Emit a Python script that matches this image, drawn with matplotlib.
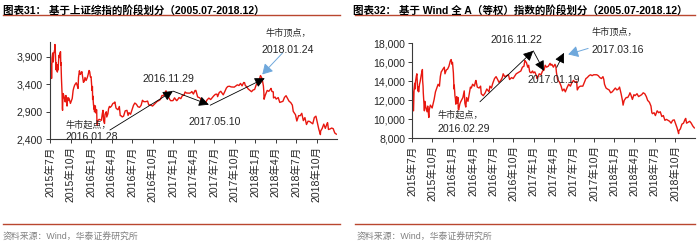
import matplotlib
matplotlib.use("Agg")
import matplotlib.pyplot as plt
import matplotlib.dates as mdates
from matplotlib.lines import Line2D
import pandas as pd

FONT = ['Liberation Sans', 'Noto Sans CJK SC']
plt.rcParams['font.family'] = FONT

# ---- 上证综指 (left) ----
sh_dates = [
    "2015-07-01", "2015-07-02", "2015-07-03", "2015-07-06", "2015-07-07", "2015-07-08", "2015-07-09", "2015-07-10",
    "2015-07-13", "2015-07-14", "2015-07-15", "2015-07-16", "2015-07-17", "2015-07-20", "2015-07-21", "2015-07-22",
    "2015-07-23", "2015-07-24", "2015-07-27", "2015-07-28", "2015-07-29", "2015-07-30", "2015-07-31", "2015-08-03",
    "2015-08-04", "2015-08-06", "2015-08-07", "2015-08-10", "2015-08-12", "2015-08-14", "2015-08-17", "2015-08-18",
    "2015-08-19", "2015-08-20", "2015-08-21", "2015-08-24", "2015-08-25", "2015-08-26", "2015-08-27", "2015-08-28",
    "2015-08-31", "2015-09-02", "2015-09-07", "2015-09-08", "2015-09-10", "2015-09-14", "2015-09-15", "2015-09-16",
    "2015-09-18", "2015-09-21", "2015-09-24", "2015-09-30", "2015-10-08", "2015-10-12", "2015-10-15", "2015-10-19",
    "2015-10-23", "2015-10-26", "2015-10-30", "2015-11-03", "2015-11-05", "2015-11-09", "2015-11-13", "2015-11-17",
    "2015-11-20", "2015-11-27", "2015-12-01", "2015-12-04", "2015-12-09", "2015-12-14", "2015-12-18", "2015-12-22",
    "2015-12-25", "2015-12-28", "2015-12-31",
    "2016-01-04", "2016-01-05", "2016-01-06", "2016-01-07", "2016-01-08", "2016-01-11", "2016-01-12", "2016-01-13",
    "2016-01-14", "2016-01-15", "2016-01-18", "2016-01-19", "2016-01-21", "2016-01-22", "2016-01-25", "2016-01-26",
    "2016-01-27", "2016-01-28", "2016-01-29", "2016-02-02", "2016-02-05", "2016-02-15", "2016-02-19", "2016-02-22",
    "2016-02-25", "2016-02-29", "2016-03-02", "2016-03-04", "2016-03-08", "2016-03-10", "2016-03-15", "2016-03-18",
    "2016-03-22", "2016-03-25", "2016-03-31", "2016-04-06", "2016-04-13", "2016-04-15", "2016-04-20", "2016-04-22",
    "2016-04-29", "2016-05-05", "2016-05-09", "2016-05-13", "2016-05-18", "2016-05-24", "2016-05-31", "2016-06-08",
    "2016-06-13", "2016-06-17", "2016-06-24", "2016-06-30", "2016-07-07", "2016-07-13", "2016-07-20", "2016-07-27",
    "2016-08-03", "2016-08-10", "2016-08-16", "2016-08-22", "2016-08-31", "2016-09-08", "2016-09-13", "2016-09-20",
    "2016-09-30", "2016-10-14", "2016-10-21", "2016-10-28", "2016-11-04", "2016-11-11", "2016-11-18", "2016-11-24",
    "2016-11-29", "2016-12-02", "2016-12-07", "2016-12-12", "2016-12-16", "2016-12-20", "2016-12-30",
    "2017-01-06", "2017-01-13", "2017-01-16", "2017-01-20", "2017-01-26", "2017-02-03", "2017-02-10", "2017-02-17",
    "2017-02-22", "2017-02-28", "2017-03-08", "2017-03-14", "2017-03-20", "2017-03-24", "2017-03-31", "2017-04-07",
    "2017-04-11", "2017-04-14", "2017-04-19", "2017-04-28", "2017-05-04", "2017-05-10", "2017-05-11", "2017-05-18",
    "2017-05-24", "2017-05-31", "2017-06-08", "2017-06-16", "2017-06-23", "2017-06-30", "2017-07-07", "2017-07-14",
    "2017-07-17", "2017-07-24", "2017-07-31", "2017-08-11", "2017-08-18", "2017-08-25", "2017-08-31", "2017-09-08",
    "2017-09-15", "2017-09-22", "2017-09-29", "2017-10-13", "2017-10-20", "2017-10-27", "2017-11-03", "2017-11-10",
    "2017-11-14", "2017-11-17", "2017-11-24", "2017-11-30", "2017-12-08", "2017-12-15", "2017-12-22", "2017-12-29",
    "2018-01-05", "2018-01-12", "2018-01-19", "2018-01-24", "2018-01-29", "2018-02-02", "2018-02-06", "2018-02-08",
    "2018-02-09", "2018-02-14", "2018-02-23", "2018-03-02", "2018-03-09", "2018-03-12", "2018-03-16", "2018-03-22",
    "2018-03-23", "2018-03-30", "2018-04-04", "2018-04-13", "2018-04-20", "2018-04-27", "2018-05-04", "2018-05-11",
    "2018-05-18", "2018-05-25", "2018-05-31", "2018-06-08", "2018-06-15", "2018-06-19", "2018-06-22", "2018-06-29",
    "2018-07-05", "2018-07-13", "2018-07-20", "2018-07-27", "2018-08-03", "2018-08-10", "2018-08-17", "2018-08-24",
    "2018-08-31", "2018-09-07", "2018-09-14", "2018-09-21", "2018-09-28", "2018-10-11", "2018-10-18", "2018-10-19",
    "2018-10-26", "2018-11-02", "2018-11-09", "2018-11-16", "2018-11-19", "2018-11-23", "2018-11-30", "2018-12-07",
    "2018-12-14", "2018-12-21", "2018-12-28",
]
sh_values = [
    4053, 3912, 3687, 3776, 3727, 3507, 3710, 3878,
    3970, 3924, 3805, 3823, 3958, 3992, 4017, 4026,
    4124, 4070, 3725, 3663, 3789, 3705, 3664, 3623,
    3757, 3661, 3744, 3928, 3887, 3965, 3993, 3749,
    3794, 3664, 3508, 3210, 2965, 2927, 3084, 3232,
    3206, 3160, 3080, 3170, 3197, 3114, 3005, 3152,
    3097, 3156, 3142, 3053, 3143, 3287, 3338, 3386,
    3412, 3429, 3383, 3325, 3522, 3646, 3580, 3604,
    3630, 3436, 3456, 3524, 3470, 3520, 3578, 3651,
    3628, 3533, 3539,
    3296, 3287, 3361, 3125, 3186, 3017, 3022, 2949,
    3007, 2900, 2913, 3008, 2880, 2916, 2938, 2750,
    2735, 2656, 2738, 2749, 2763, 2746, 2860, 2927,
    2742, 2688, 2849, 2874, 2901, 2806, 2864, 2955,
    2999, 2980, 3004, 3051, 3066, 3079, 2972, 2960,
    2938, 2997, 2832, 2828, 2807, 2822, 2917, 2927,
    2834, 2885, 2855, 2930, 3017, 3060, 3037, 2992,
    2982, 3018, 3110, 3085, 3085, 3095, 3024, 3026,
    3005, 3064, 3091, 3104, 3125, 3197, 3193, 3241,
    3282, 3244, 3222, 3152, 3123, 3102, 3104,
    3154, 3113, 3103, 3123, 3159, 3140, 3196, 3202,
    3261, 3242, 3241, 3239, 3250, 3269, 3223, 3287,
    3289, 3246, 3170, 3155, 3127, 3052, 3061, 3090,
    3064, 3117, 3150, 3123, 3158, 3192, 3218, 3222,
    3176, 3250, 3273, 3209, 3268, 3332, 3360, 3365,
    3353, 3352, 3349, 3391, 3378, 3416, 3372, 3433,
    3430, 3382, 3353, 3317, 3289, 3266, 3297, 3307,
    3392, 3429, 3488, 3559, 3523, 3462, 3370, 3262,
    3129, 3199, 3289, 3273, 3307, 3326, 3269, 3263,
    3152, 3169, 3131, 3159, 3071, 3082, 3091, 3163,
    3193, 3141, 3095, 3067, 3022, 2908, 2889, 2847,
    2733, 2831, 2829, 2873, 2740, 2795, 2669, 2730,
    2725, 2702, 2682, 2797, 2821, 2583, 2486, 2550,
    2598, 2676, 2599, 2680, 2703, 2579, 2588, 2605,
    2594, 2516, 2494,
]

# ---- Wind 全A（等权） (right) ----
wa_dates = [
    "2015-07-01", "2015-07-03", "2015-07-08", "2015-07-09", "2015-07-10", "2015-07-13", "2015-07-15", "2015-07-17",
    "2015-07-21", "2015-07-23", "2015-07-27", "2015-07-29", "2015-07-31", "2015-08-04", "2015-08-07", "2015-08-12",
    "2015-08-17", "2015-08-18", "2015-08-20", "2015-08-21", "2015-08-24", "2015-08-26", "2015-08-28", "2015-09-01",
    "2015-09-07", "2015-09-10", "2015-09-15", "2015-09-17", "2015-09-22", "2015-09-30", "2015-10-09", "2015-10-15",
    "2015-10-21", "2015-10-27", "2015-11-02", "2015-11-06", "2015-11-10", "2015-11-13", "2015-11-18", "2015-11-24",
    "2015-11-27", "2015-12-03", "2015-12-09", "2015-12-15", "2015-12-21", "2015-12-25", "2015-12-29", "2015-12-31",
    "2016-01-04", "2016-01-07", "2016-01-08", "2016-01-11", "2016-01-13", "2016-01-15", "2016-01-19", "2016-01-21",
    "2016-01-25", "2016-01-26", "2016-01-28", "2016-02-02", "2016-02-05", "2016-02-16", "2016-02-22", "2016-02-25",
    "2016-02-29", "2016-03-04", "2016-03-10", "2016-03-15", "2016-03-21", "2016-03-25", "2016-03-31", "2016-04-08",
    "2016-04-13", "2016-04-15", "2016-04-21", "2016-04-29", "2016-05-06", "2016-05-09", "2016-05-13", "2016-05-18",
    "2016-05-27", "2016-06-03", "2016-06-13", "2016-06-17", "2016-06-24", "2016-06-30", "2016-07-08", "2016-07-15",
    "2016-07-22", "2016-07-28", "2016-08-05", "2016-08-12", "2016-08-16", "2016-08-23", "2016-08-31", "2016-09-09",
    "2016-09-14", "2016-09-23", "2016-09-30", "2016-10-14", "2016-10-21", "2016-10-28", "2016-11-04", "2016-11-11",
    "2016-11-18", "2016-11-22", "2016-11-25", "2016-11-29", "2016-12-05", "2016-12-09", "2016-12-14", "2016-12-20",
    "2016-12-27", "2016-12-30",
    "2017-01-06", "2017-01-13", "2017-01-16", "2017-01-19", "2017-01-26", "2017-02-03", "2017-02-10", "2017-02-17",
    "2017-02-22", "2017-02-28", "2017-03-08", "2017-03-16", "2017-03-20", "2017-03-24", "2017-03-31", "2017-04-07",
    "2017-04-11", "2017-04-14", "2017-04-19", "2017-04-28", "2017-05-05", "2017-05-11", "2017-05-18", "2017-05-24",
    "2017-05-31", "2017-06-08", "2017-06-16", "2017-06-23", "2017-06-30", "2017-07-07", "2017-07-14", "2017-07-17",
    "2017-07-24", "2017-07-31", "2017-08-11", "2017-08-18", "2017-08-25", "2017-08-31", "2017-09-08", "2017-09-15",
    "2017-09-22", "2017-09-29", "2017-10-13", "2017-10-20", "2017-10-27", "2017-11-03", "2017-11-10", "2017-11-14",
    "2017-11-17", "2017-11-24", "2017-11-30", "2017-12-08", "2017-12-15", "2017-12-22", "2017-12-29",
    "2018-01-05", "2018-01-12", "2018-01-19", "2018-01-24", "2018-01-31", "2018-02-06", "2018-02-09", "2018-02-14",
    "2018-02-23", "2018-03-02", "2018-03-09", "2018-03-12", "2018-03-16", "2018-03-23", "2018-03-30", "2018-04-04",
    "2018-04-13", "2018-04-20", "2018-04-27", "2018-05-04", "2018-05-11", "2018-05-18", "2018-05-25", "2018-05-31",
    "2018-06-08", "2018-06-15", "2018-06-19", "2018-06-22", "2018-06-29", "2018-07-05", "2018-07-13", "2018-07-20",
    "2018-07-27", "2018-08-03", "2018-08-10", "2018-08-17", "2018-08-24", "2018-08-31", "2018-09-07", "2018-09-14",
    "2018-09-21", "2018-09-28", "2018-10-11", "2018-10-18", "2018-10-19", "2018-10-26", "2018-11-02", "2018-11-09",
    "2018-11-16", "2018-11-19", "2018-11-23", "2018-11-30", "2018-12-07", "2018-12-14", "2018-12-21", "2018-12-28",
]
wa_values = [
    14800, 13200, 10900, 11800, 12900, 13800, 13200, 14000,
    14600, 14800, 13000, 13400, 12900, 13700, 14000, 14700,
    15250, 14100, 13500, 12800, 11600, 10900, 11900, 11300,
    10800, 11400, 10200, 11000, 11500, 11200, 12100, 12900,
    13300, 13700, 13500, 14500, 15000, 15100, 15300, 15500,
    14800, 15200, 15300, 15600, 16150, 16300, 15800, 16000,
    14900, 13200, 13600, 12500, 12200, 11600, 12400, 11700,
    12300, 11100, 11000, 11600, 11800, 12300, 13000, 11700,
    11300, 12300, 11900, 12600, 13400, 13300, 13700, 13500,
    14000, 14100, 13400, 13300, 13500, 12700, 12600, 12500,
    12800, 13200, 12900, 13500, 13300, 13800, 14300, 14500,
    14200, 13900, 14100, 14400, 14800, 14500, 14600, 14700,
    14200, 14400, 14300, 14800, 14900, 15000, 15100, 15500,
    15600, 16200, 16100, 16000, 15500, 15700, 15000, 14900,
    15100, 14900,
    15000, 14600, 14300, 14400, 14800, 14700, 15100, 15200,
    15700, 15500, 15600, 15900, 15700, 15800, 15500, 15800,
    15600, 14900, 14200, 13900, 13500, 13000, 13200, 12900,
    13300, 13700, 13500, 13900, 14100, 13900, 14000, 13100,
    13400, 13500, 13500, 13900, 14300, 14400, 14600, 14700,
    14600, 14700, 14700, 14600, 14400, 14300, 14500, 14200,
    13700, 13300, 13200, 13100, 12800, 12900, 13100,
    13300, 13100, 13200, 13400, 12700, 12000, 11500, 12000,
    12300, 12300, 12600, 12800, 12600, 12100, 12600, 12500,
    12700, 12400, 12500, 12600, 12800, 12700, 12400, 12000,
    11800, 11400, 10700, 10600, 10700, 10400, 10900, 10700,
    10800, 10300, 10400, 9900, 10000, 9900, 9800, 9600,
    9900, 9950, 9100, 8500, 8800, 9000, 9500, 9600,
    10000, 10100, 9600, 9700, 9800, 9600, 9300, 9100,
]

tick_dates = ["2015-07-01", "2015-10-01", "2016-01-01", "2016-04-01", "2016-07-01", "2016-10-01", "2017-01-01",
              "2017-04-01", "2017-07-01", "2017-10-01", "2018-01-01", "2018-04-01", "2018-07-01", "2018-10-01"]
tick_labels = ["2015年7月", "2015年10月", "2016年1月", "2016年4月", "2016年7月", "2016年10月", "2017年1月",
               "2017年4月", "2017年7月", "2017年10月", "2018年1月", "2018年4月", "2018年7月", "2018年10月"]

sh_yticks = [2400, 2900, 3400, 3900]
wa_yticks = [8000, 10000, 12000, 14000, 16000, 18000]

RED = '#e8170f'
LINE = '#b9472f'
TXT = '#262626'


def style_axis(ax, yticks):
    for s in ['top', 'right']:
        ax.spines[s].set_visible(False)
    for s in ['left', 'bottom']:
        ax.spines[s].set_color('#3a3a3a')
        ax.spines[s].set_linewidth(0.8)
    ax.set_xlim(pd.Timestamp("2015-07-01"), pd.Timestamp("2018-12-31"))
    ax.set_xticks(pd.to_datetime(tick_dates))
    ax.set_xticklabels(tick_labels, rotation=90, fontsize=7.6, color=TXT)
    ax.set_yticks(yticks)
    ax.set_yticklabels([f"{v:,}" for v in yticks], fontsize=7.6, color=TXT)
    ax.tick_params(length=3, width=0.7, color='#3a3a3a', pad=2)


fig = plt.figure(figsize=(7, 2.44), dpi=100)

ax1 = fig.add_axes([50 / 700, 0.429, 287 / 700, 0.399])
ax1.plot(pd.to_datetime(sh_dates), sh_values, color=RED, lw=1.0)
ax1.set_ylim(2400, 4170)
style_axis(ax1, sh_yticks)

ax2 = fig.add_axes([412 / 700, 0.433, 283 / 700, 0.389])
ax2.plot(pd.to_datetime(wa_dates), wa_values, color=RED, lw=1.0)
ax2.set_ylim(8000, 18000)
style_axis(ax2, wa_yticks)

T = pd.Timestamp
black_arrow = dict(arrowstyle='-|>,head_length=0.6,head_width=0.3', color='black', lw=0.6, shrinkA=0, shrinkB=0)
blue_arrow = dict(arrowstyle='-|>,head_length=0.6,head_width=0.35', color='#6fa8dc', lw=0.7, shrinkA=0, shrinkB=0)


def arrow(ax, tail, head, props):
    ax.annotate('', xy=(T(head[0]), head[1]), xytext=(T(tail[0]), tail[1]),
                arrowprops=props, annotation_clip=False)


def label(ax, d, v, s, ha='center', size=7.6):
    ax.text(T(d), v, s, ha=ha, va='center', fontsize=size, color=TXT, clip_on=False)


# left annotations
arrow(ax1, ("2016-03-24", 2569), ("2016-12-30", 3277), black_arrow)
arrow(ax1, ("2016-12-30", 3277), ("2017-06-08", 3030), black_arrow)
arrow(ax1, ("2017-06-14", 3020), ("2018-02-12", 3510), black_arrow)
arrow(ax1, ("2018-05-03", 3973), ("2018-02-01", 3580), blue_arrow)
label(ax1, "2016-12-09", 3495, "2016.11.29")
label(ax1, "2017-07-05", 2720, "2017.05.10")
label(ax1, "2015-09-06", 2658, "牛市起点，", ha='left', size=6.6)
label(ax1, "2015-09-10", 2436, "2016.01.28", ha='left')
label(ax1, "2018-05-27", 4330, "牛市顶点，", size=6.6)
label(ax1, "2018-05-27", 4022, "2018.01.24")

# right annotations
arrow(ax2, ("2016-05-03", 11853), ("2016-12-30", 17221), black_arrow)
arrow(ax2, ("2016-12-30", 17221), ("2017-02-16", 15116), black_arrow)
arrow(ax2, ("2017-04-15", 15474), ("2017-05-18", 17010), black_arrow)
arrow(ax2, ("2017-09-04", 17474), ("2017-06-06", 16842), blue_arrow)
label(ax2, "2016-10-17", 18347, "2016.11.22")
label(ax2, "2017-03-31", 14137, "2017.01.19")
label(ax2, "2017-09-21", 19189, "牛市顶点，", ha='left', size=6.6)
label(ax2, "2017-09-21", 17295, "2017.03.16", ha='left')
label(ax2, "2015-10-22", 10453, "牛市起点，", ha='left', size=6.6)
label(ax2, "2015-10-22", 9011, "2016.02.29", ha='left')

# titles, rules and sources
fig.text(3 / 700, 1 - 10 / 244, "图表31： 基于上证综指的阶段划分（2005.07-2018.12）",
         fontsize=7.6, fontweight='bold', va='center', ha='left', color='black')
fig.text(353 / 700, 1 - 10 / 244, "图表32： 基于 Wind 全 A（等权）指数的阶段划分（2005.07-2018.12）",
         fontsize=7.6, fontweight='bold', va='center', ha='left', color='black')
for x0, x1 in [(3, 340), (355, 695)]:
    fig.add_artist(Line2D([x0 / 700, x1 / 700], [1 - 15 / 244] * 2, color=LINE, lw=1.0))
    fig.add_artist(Line2D([x0 / 700, x1 / 700], [20 / 244] * 2, color=LINE, lw=1.0))
fig.text(3 / 700, 7 / 244, "资料来源：Wind，华泰证券研究所", fontsize=6.4, color='#808080', va='center')
fig.text(357 / 700, 7 / 244, "资料来源：Wind，华泰证券研究所", fontsize=6.4, color='#808080', va='center')

fig.savefig("out.png", dpi=100)
